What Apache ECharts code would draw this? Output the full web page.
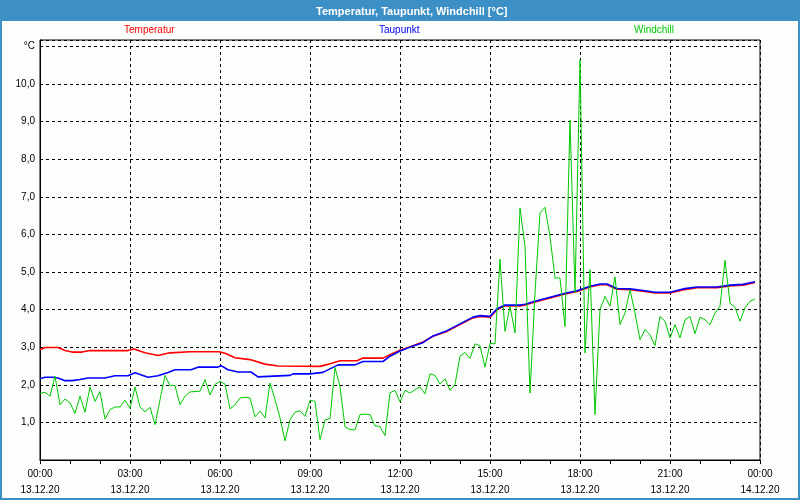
<!DOCTYPE html>
<html><head><meta charset="utf-8">
<script src="https://cdn.jsdelivr.net/npm/echarts@6/dist/echarts.min.js"></script>
<style>html,body{margin:0;padding:0;background:#fcfefc}#c{width:800px;height:500px}</style>
</head><body><div id="c"></div>
<script>
const titleText = 'Temperatur, Taupunkt, Windchill [°C]';
const seriesNames = ['Temperatur', 'Taupunkt', 'Windchill'];
const xTickLabels = ['00:00\n13.12.20','03:00\n13.12.20','06:00\n13.12.20','09:00\n13.12.20','12:00\n13.12.20','15:00\n13.12.20','18:00\n13.12.20','21:00\n13.12.20','00:00\n14.12.20'];
const yUnitLabel = '°C';

// minutes since 13.12.20 00:00
const tempMinutes = [0,10,36,50,64,84,100,176,188,210,236,260,300,358,370,390,420,450,476,560,580,600,634,646,686,700,720,746,766,786,814,840,866,880,900,914,930,960,970,990,1026,1046,1074,1100,1120,1134,1154,1180,1210,1230,1260,1286,1314,1354,1380,1406,1430];
const tempValues  = [2.93,2.99,2.99,2.91,2.87,2.87,2.91,2.91,2.95,2.85,2.78,2.85,2.88,2.88,2.84,2.72,2.67,2.55,2.50,2.49,2.56,2.64,2.64,2.71,2.71,2.80,2.92,3.04,3.14,3.29,3.42,3.60,3.78,3.82,3.80,4.00,4.10,4.10,4.12,4.20,4.33,4.40,4.48,4.60,4.66,4.66,4.54,4.53,4.48,4.44,4.44,4.52,4.58,4.58,4.63,4.65,4.72];

const dewMinutes = [0,10,26,36,50,64,80,96,130,150,176,190,216,236,256,270,302,316,356,362,376,396,422,436,500,506,540,566,596,630,646,686,700,720,746,766,786,814,840,866,880,900,914,930,960,970,990,1026,1046,1074,1100,1120,1134,1154,1180,1210,1230,1260,1286,1314,1354,1380,1406,1430];
const dewValues  = [2.16,2.20,2.20,2.18,2.11,2.11,2.14,2.18,2.18,2.24,2.24,2.32,2.20,2.24,2.33,2.40,2.40,2.47,2.47,2.51,2.40,2.34,2.34,2.21,2.25,2.29,2.29,2.33,2.53,2.53,2.62,2.62,2.76,2.90,3.03,3.12,3.30,3.44,3.62,3.80,3.84,3.82,4.02,4.12,4.12,4.14,4.22,4.35,4.42,4.50,4.62,4.68,4.68,4.56,4.55,4.50,4.46,4.46,4.55,4.60,4.60,4.65,4.67,4.74];

// windchill sampled every 10 minutes from 00:00
const windStepMinutes = 10;
const windValues = [
1.77,1.80,1.70,2.23,1.47,1.62,1.52,1.24,1.70,1.27,
1.94,1.56,1.82,1.09,1.34,1.41,1.41,1.59,1.37,1.94,
1.41,1.28,1.40,0.94,1.60,2.25,1.98,1.98,1.47,1.70,
1.81,1.82,1.83,2.14,1.73,2.01,2.09,2.02,1.36,1.47,
1.65,1.67,1.65,1.15,1.30,1.12,2.05,1.61,1.12,0.51,
1.07,1.27,1.31,1.16,1.59,1.56,0.54,1.07,1.10,2.46,
1.95,0.88,0.81,0.80,1.21,1.22,1.21,0.91,0.89,0.65,
1.79,1.85,1.55,1.85,1.78,1.87,1.94,1.76,2.29,2.25,
2.02,2.16,1.85,2.01,2.76,2.86,2.70,3.09,3.04,2.47,
3.10,3.09,5.34,3.42,4.09,3.38,6.70,5.68,1.78,4.44,
6.57,6.72,5.94,4.84,4.84,3.55,9.04,4.45,10.64,2.85,
5.06,1.21,4.00,4.35,4.09,4.87,3.60,3.91,4.53,3.91,
3.20,3.47,3.33,3.04,3.82,3.69,3.25,3.60,3.25,3.73,
3.82,3.36,3.80,3.73,3.60,3.91,4.09,5.31,4.17,4.06,
3.69,4.05,4.22,4.28];

const seriesColors = ['#ff0000', '#0000ff', '#00c800'];

const pair = (xs, ys) => ys.map((v, i) => [xs[i], v]);
const windData = windValues.map((v, i) => [i * windStepMinutes, v]);

const font = 'Liberation Sans';
const chart = echarts.init(document.getElementById('c'), null, {renderer: 'canvas'});

function legendFor(i, left) {
  return {
    show: true, data: [{name: seriesNames[i], textStyle: {color: seriesColors[i]}}],
    left: left, top: 20, itemWidth: 0, itemHeight: 0, itemGap: 0, icon: 'rect',
    textStyle: {fontFamily: font, fontSize: 10},
    selectedMode: false
  };
}

chart.setOption({
  animation: false,
  backgroundColor: '#fcfefc',
  graphic: [
    {type: 'rect', z: -10, shape: {x: 0, y: 0, width: 800, height: 21}, style: {fill: '#3d90c5'}},
    {type: 'rect', z: 100, shape: {x: 1, y: 1, width: 798, height: 498}, style: {fill: 'none', stroke: '#3d90c5', lineWidth: 2}}
  ],
  title: {
    text: titleText, left: 311, top: 1,
    textStyle: {color: '#ffffff', fontFamily: font, fontSize: 11, fontWeight: 'bold'}
  },
  legend: [legendFor(0, 114), legendFor(1, 369), legendFor(2, 624)],
  grid: {left: 40, right: 40, top: 40, bottom: 40, show: true, borderColor: '#000', borderWidth: 1, backgroundColor: 'transparent'},
  xAxis: {
    type: 'value', min: 0, max: 1440, interval: 180,
    axisLine: {show: true, lineStyle: {color: '#000', width: 1}},
    axisTick: {show: true, length: 4, lineStyle: {color: '#000'}},
    minorTick: {show: true, splitNumber: 3, length: 4, lineStyle: {color: '#000'}},
    splitLine: {show: true, lineStyle: {color: '#000', type: [3, 3], width: 1}},
    axisLabel: {
      color: '#000', fontFamily: font, fontSize: 10, lineHeight: 16, margin: 6,
      formatter: v => xTickLabels[Math.round(v / 180)] || ''
    }
  },
  yAxis: {
    type: 'value', min: 0, max: 11.17, interval: 1,
    axisLine: {show: true, lineStyle: {color: '#000', width: 1}},
    axisTick: {show: false},
    splitLine: {show: true, lineStyle: {color: '#000', type: [3, 3], width: 1}},
    axisLabel: {
      color: '#000', fontFamily: font, fontSize: 10, margin: 5,
      formatter: v => {
        if (Math.abs(v - Math.round(v)) > 1e-6 || v === 0) return '';
        if (v === 11) return yUnitLabel;
        return v.toFixed(1).replace('.', ',');
      }
    }
  },
  series: [
    {name: seriesNames[0], type: 'line', data: pair(tempMinutes, tempValues), showSymbol: false, symbol: 'none', lineStyle: {color: seriesColors[0], width: 1.6}, itemStyle: {color: seriesColors[0]}},
    {name: seriesNames[1], type: 'line', data: pair(dewMinutes, dewValues), showSymbol: false, symbol: 'none', lineStyle: {color: seriesColors[1], width: 1.6}, itemStyle: {color: seriesColors[1]}},
    {name: seriesNames[2], type: 'line', data: windData, showSymbol: false, symbol: 'none', lineStyle: {color: seriesColors[2], width: 1}, itemStyle: {color: seriesColors[2]}}
  ]
});
</script></body></html>
